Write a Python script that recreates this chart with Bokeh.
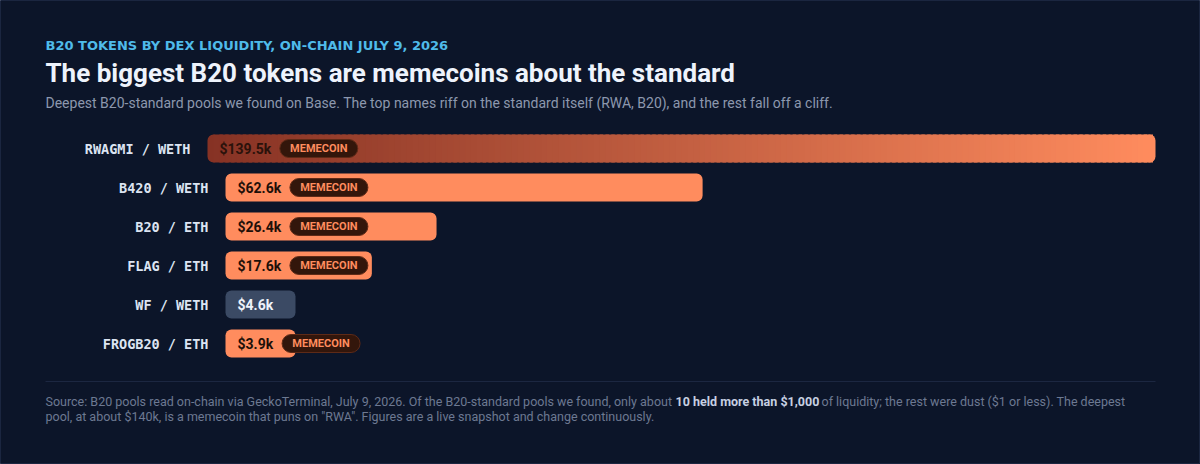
import numpy as np
from bokeh.plotting import figure
from bokeh.models import Range1d, Label, BoxAnnotation
from bokeh.core.properties import value
from bokeh.embed import file_html
from bokeh.resources import INLINE

# ---------------- data ----------------
pairs = ["RWAGMI / WETH", "B420 / WETH", "B20 / ETH", "FLAG / ETH", "WF / WETH", "FROGB20 / ETH"]
liquidity_k = [139.5, 62.6, 26.4, 17.6, 4.6, 3.9]          # USD thousands
tags = ["MEMECOIN", "MEMECOIN", "MEMECOIN", "MEMECOIN", "", "MEMECOIN"]
highlight = [True, False, False, False, False, False]

eyebrow = "B20 TOKENS BY DEX LIQUIDITY, ON-CHAIN JULY 9, 2026"
title = "The biggest B20 tokens are memecoins about the standard"
subtitle = ("Deepest B20-standard pools we found on Base. The top names riff on the standard "
            "itself (RWA, B20), and the rest fall off a cliff.")
foot1a = "Source: B20 pools read on-chain via GeckoTerminal, July 9, 2026. Of the B20-standard pools we found, only about"
foot1b = "10 held more than $1,000"
foot1c = "of liquidity; the rest were dust ($1 or less). The deepest"
foot2 = 'pool, at about $140k, is a memecoin that puns on "RWA". Figures are a live snapshot and change continuously.'

# ---------------- layout / style ----------------
W, H = 1200, 464
PXK = 7.35            # pixels per $1k
ZERO_PX = 242         # pixel of value 0
PAD_PX = 17           # bar padding before value 0
ROW0_PY, ROW_PX = 148, 39
BAR_PX = 28
MIN_RIGHT_PX, MAX_RIGHT_PX = 295, 1155
SHIFT_PX = 18         # highlighted row shifted left

xs = -ZERO_PX / PXK
xe = (W - ZERO_PX) / PXK
y_top = -ROW0_PY / ROW_PX
y_bot = (H - ROW0_PY) / ROW_PX

BG = "#0c1529"
ORANGE = "#ff8c5e"
SLATE = "#3b4a64"
BADGE_BG = "#33160b"
BADGE_LINE = "#5e2a17"

vals = np.array(liquidity_k, dtype=float)
n = len(vals)
ys = np.arange(n, dtype=float)
shift_k = np.array([SHIFT_PX / PXK if h else 0.0 for h in highlight])
bar_left = -PAD_PX / PXK - shift_k
bar_right = np.clip(vals, (MIN_RIGHT_PX - ZERO_PX) / PXK, (MAX_RIGHT_PX - ZERO_PX) / PXK)
bh = BAR_PX / ROW_PX

p = figure(width=W, height=H, x_range=Range1d(xs, xe), y_range=Range1d(y_bot, y_top),
           output_backend="svg", toolbar_location=None, min_border=0,
           x_axis_location=None, y_axis_location=None)
p.grid.visible = False
p.background_fill_color = BG
p.border_fill_color = BG
p.outline_line_color = "#1b2640"
p.outline_line_width = 1

# ---------------- bars ----------------
normal = [i for i in range(n) if not highlight[i]]
bar_cols = [ORANGE if tags[i] else SLATE for i in normal]
p.hbar(y=ys[normal], left=bar_left[normal], right=bar_right[normal], height=bh,
       fill_color=bar_cols, line_color=None, border_radius=6)

c0 = np.array([134, 50, 36])
c1 = np.array([255, 140, 94])
rk = 6 / PXK
for i in [k for k in range(n) if highlight[k]]:
    L, R = bar_left[i], bar_right[i]
    p.hbar(y=[ys[i]], left=[L], right=[L + 2 * rk], height=bh,
           fill_color="#%02x%02x%02x" % tuple(c0), line_color=None, border_radius=6)
    p.hbar(y=[ys[i]], left=[R - 2 * rk], right=[R], height=bh,
           fill_color="#%02x%02x%02x" % tuple(c1), line_color=None, border_radius=6)
    m = 160
    edges = np.linspace(L + rk, R - rk, m + 1)
    t = ((edges[:-1] + edges[1:]) / 2 - L) / (R - L)
    cols = ["#%02x%02x%02x" % tuple(np.round(c0 + (c1 - c0) * tt).astype(int)) for tt in t]
    p.quad(left=edges[:-1], right=edges[1:] + (edges[1] - edges[0]) * 0.6,
           top=ys[i] - bh / 2, bottom=ys[i] + bh / 2, fill_color=cols, line_color=None)

# ---------------- badges ----------------
CW = {"$": 0.5615, ".": 0.27, "k": 0.514}
def tw(s, size):
    return sum(CW.get(ch, 0.5615) for ch in s) * size

vtxt = [f"${v:.1f}k" for v in vals]
bi = [i for i in range(n) if tags[i]]
b_left = np.array([bar_left[i] + (12 + tw(vtxt[i], 14) + 10) / PXK for i in bi])
b_right = b_left + 78 / PXK
p.hbar(y=ys[bi], left=b_left, right=b_right, height=18 / ROW_PX,
       fill_color=BADGE_BG, line_color=BADGE_LINE, line_width=1, border_radius=9)
p.text(x=(b_left + b_right) / 2, y=ys[bi] + 0.01, text=[tags[i] for i in bi],
       text_font=value("Roboto"), text_font_style="bold", text_font_size="11px",
       text_color=ORANGE, text_align="center", text_baseline="middle")

# ---------------- value labels ----------------
vcol = ["#2a120b" if highlight[i] else ("#1e1009" if tags[i] else "#eef2fa") for i in range(n)]
p.text(x=bar_left, y=ys + 0.01, text=vtxt, x_offset=12,
       text_font=value("Roboto"), text_font_style="bold", text_font_size="14px",
       text_color=vcol, text_align="left", text_baseline="middle")

# ---------------- pair labels ----------------
p.text(x=bar_left, y=ys + 0.01, text=pairs, x_offset=-17,
       text_font=value("DejaVu Sans Mono"), text_font_style="bold", text_font_size="13.5px",
       text_color="#dce4f2", text_align="right", text_baseline="middle")

# ---------------- header / footer ----------------
def lab(txt, x, py, size, color, bold=False, font="Roboto"):
    p.add_layout(Label(x=x, y=H - py, x_units="screen", y_units="screen", text=txt,
                       text_font=font, text_font_size=size, text_color=color,
                       text_font_style="bold" if bold else "normal",
                       text_baseline="middle", text_align="left"))

lab(eyebrow, 45, 45, "13px", "#4fbbea", True, "DejaVu Sans")
lab(title, 45, 72, "26px", "#eef3fc", True)
lab(subtitle, 45, 102, "14px", "#8d98ae")

p.add_layout(BoxAnnotation(left=45, right=1155, top=H - 380.5, bottom=H - 381.5,
                           left_units="screen", right_units="screen",
                           top_units="screen", bottom_units="screen",
                           fill_color="#1c2741", fill_alpha=1, line_color=None))

lab(foot1a, 45, 401, "12.5px", "#6d7992")
lab(foot1b, 675, 401, "12.5px", "#c7d0e2", True)
lab(foot1c, 821, 401, "12.5px", "#6d7992")
lab(foot2, 45, 416, "12.5px", "#6d7992")

open("out.html", "w").write(file_html(p, INLINE))
